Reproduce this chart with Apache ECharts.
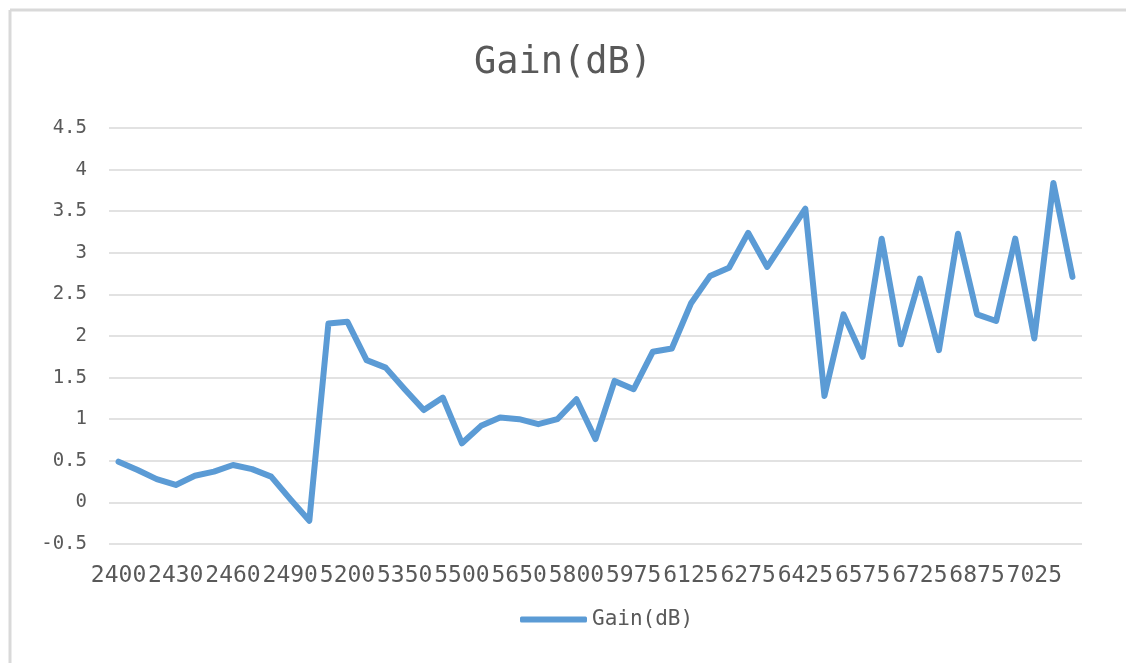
<!DOCTYPE html>
<html>
<head>
<meta charset="utf-8">
<title>Gain(dB)</title>
<script src="https://cdn.jsdelivr.net/npm/echarts@6/dist/echarts.min.js"></script>
<style>
  html, body { margin: 0; padding: 0; background: #fff; }
  #chart { width: 1126px; height: 663px; }
</style>
</head>
<body>
<div id="chart"></div>
<script>
// frequencies (MHz)
const freqs = [
  2400, 2410, 2420, 2430, 2440, 2450, 2460, 2470, 2480, 2490,
  2500, 5150, 5200, 5250, 5300, 5350, 5400, 5450, 5500, 5550,
  5600, 5650, 5700, 5750, 5800, 5850, 5925, 5975, 6025, 6075,
  6125, 6175, 6225, 6275, 6325, 6375, 6425, 6475, 6525, 6575,
  6625, 6675, 6725, 6775, 6825, 6875, 6925, 6975, 7025, 7075,
  7125
];
// gain values (dB)
const gain = [
  0.49, 0.39, 0.28, 0.21, 0.32, 0.37, 0.45, 0.40, 0.31, 0.04,
  -0.22, 2.15, 2.17, 1.71, 1.62, 1.36, 1.11, 1.26, 0.71, 0.92,
  1.02, 1.00, 0.94, 1.00, 1.24, 0.76, 1.46, 1.36, 1.81, 1.85,
  2.39, 2.72, 2.82, 3.24, 2.83, 3.18, 3.53, 1.28, 2.26, 1.75,
  3.17, 1.90, 2.69, 1.83, 3.23, 2.26, 2.18, 3.17, 1.97, 3.84,
  2.71
];
const seriesName = 'Gain(dB)';

const mono = '"DejaVu Sans Mono", "Liberation Mono", monospace';

const chart = echarts.init(document.getElementById('chart'));
chart.setOption({
  backgroundColor: '#fff',
  animation: false,
  title: {
    text: 'Gain(dB)',
    left: 'center',
    top: 40,
    textStyle: { fontFamily: mono, fontSize: 37, fontWeight: 'normal', color: '#595959' }
  },
  legend: {
    data: [seriesName],
    bottom: 28,
    left: 515,
    icon: 'roundRect',
    itemWidth: 67,
    itemHeight: 6,
    textStyle: { fontFamily: mono, fontSize: 21, color: '#595959' }
  },
  grid: { left: 109, right: 44, top: 128, bottom: 119 },
  xAxis: {
    type: 'category',
    data: freqs,
    boundaryGap: true,
    axisLine: { show: false },
    axisTick: { show: false },
    axisLabel: { interval: 2, margin: 21, fontFamily: mono, fontSize: 23, color: '#595959' }
  },
  yAxis: {
    type: 'value',
    min: -0.5,
    max: 4.5,
    interval: 0.5,
    axisLine: { show: false },
    axisTick: { show: false },
    splitLine: { lineStyle: { color: '#d9d9d9', width: 1.5 } },
    axisLabel: { margin: 22, fontFamily: mono, fontSize: 19, color: '#595959' }
  },
  graphic: [
    { type: 'line', shape: { x1: 10, y1: 10, x2: 1126, y2: 10 }, style: { stroke: '#d9d9d9', lineWidth: 3 } },
    { type: 'line', shape: { x1: 10, y1: 10, x2: 10, y2: 663 }, style: { stroke: '#d9d9d9', lineWidth: 3 } }
  ],
  series: [{
    name: seriesName,
    type: 'line',
    data: gain,
    showSymbol: false,
    color: '#5b9bd5',
    lineStyle: { width: 6, cap: 'round', join: 'round' }
  }]
});
</script>
</body>
</html>
